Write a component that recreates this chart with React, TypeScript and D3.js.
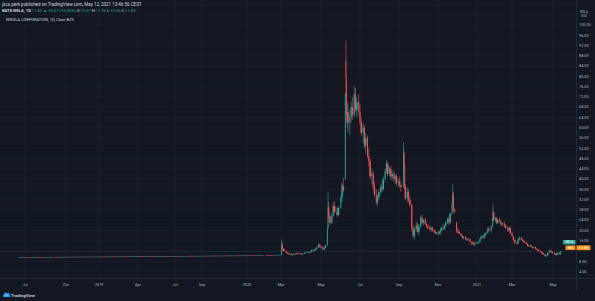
import React from "react";
import * as d3 from "d3";

type Bar = [string, number, number, number, number]; // date, open, high, low, close

// ---- axis data ----
const timeTickDates = ["2018-07-01","2018-10-01","2019-01-01","2019-04-01","2019-07-01","2019-09-01","2020-01-01","2020-03-01","2020-05-01","2020-07-01","2020-09-01","2020-11-01","2021-01-01","2021-03-01","2021-05-01"];
const timeTickLabels = ["Jul","Oct","2019","Apr","Jul","Sep","2020","Mar","May","Jul","Sep","Nov","2021","Mar","May"];
const priceTicks = [4,8,12,16,20,24,28,32,36,40,44,48,52,56,60,64,68,72,76,80,84,88,92,96,100];
const gridLevels = [4,8,12,16,20,24,28,32,36,40,44,48,52,56,60,64,68,72,76,80,84,88,92,96,100,104,108];

// ---- price data ----
const spacEra: Bar[] = [
  ["2018-06-15",9.58,9.62,9.55,9.6],["2018-07-02",9.62,9.64,9.57,9.59],["2018-07-16",9.6,9.66,9.58,9.63],
  ["2018-08-01",9.65,9.68,9.6,9.62],["2018-08-15",9.63,9.7,9.61,9.67],["2018-09-04",9.69,9.72,9.64,9.66],
  ["2018-09-17",9.67,9.74,9.65,9.71],["2018-10-01",9.73,9.76,9.68,9.7],["2018-10-15",9.71,9.77,9.69,9.74],
  ["2018-11-01",9.76,9.78,9.7,9.72],["2018-11-15",9.73,9.8,9.71,9.77],["2018-12-03",9.79,9.82,9.74,9.75],
  ["2018-12-17",9.76,9.83,9.74,9.8],["2019-01-02",9.82,9.84,9.76,9.78],["2019-01-16",9.79,9.86,9.77,9.84],
  ["2019-02-01",9.86,9.88,9.8,9.82],["2019-02-15",9.83,9.9,9.81,9.88],["2019-03-01",9.9,9.92,9.85,9.86],
  ["2019-03-15",9.87,9.95,9.85,9.92],["2019-04-01",9.94,9.96,9.88,9.9],["2019-04-15",9.91,9.98,9.89,9.95],
  ["2019-05-01",9.97,10.0,9.92,9.94],["2019-05-15",9.95,10.02,9.93,10.0],["2019-06-03",10.02,10.04,9.96,9.98],
  ["2019-06-17",9.99,10.06,9.97,10.03],["2019-07-01",10.05,10.08,10.0,10.02],["2019-07-15",10.03,10.1,10.01,10.07],
  ["2019-08-01",10.09,10.12,10.04,10.06],["2019-08-15",10.07,10.14,10.05,10.11],["2019-09-03",10.13,10.16,10.08,10.1],
  ["2019-09-16",10.11,10.18,10.09,10.15],["2019-10-01",10.17,10.2,10.12,10.14],["2019-10-15",10.15,10.22,10.13,10.19],
  ["2019-11-01",10.21,10.24,10.16,10.18],["2019-11-15",10.19,10.26,10.17,10.23],["2019-12-02",10.25,10.28,10.2,10.22],
  ["2019-12-16",10.23,10.3,10.21,10.27],["2020-01-02",10.29,10.34,10.24,10.26],["2020-01-16",10.27,10.38,10.25,10.35],
  ["2020-02-03",10.38,10.45,10.3,10.34],["2020-02-18",10.36,10.55,10.34,10.5],
];

const spring2020: Bar[] = [
  ["2020-03-02",10.6,16.4,10.5,14.2],["2020-03-03",14.5,15.5,12.5,12.8],["2020-03-05",12.8,13.2,11.8,12.0],
  ["2020-03-09",12.0,12.2,11.0,11.3],["2020-03-11",11.3,11.6,10.8,11.0],["2020-03-13",11.0,11.4,10.5,10.9],
  ["2020-03-16",10.9,11.0,10.2,10.5],["2020-03-18",10.5,10.9,10.1,10.6],["2020-03-20",10.6,11.0,10.4,10.8],
  ["2020-03-23",10.8,11.2,10.5,10.7],["2020-03-25",10.7,11.3,10.6,11.1],["2020-03-27",11.1,11.4,10.8,11.0],
  ["2020-03-30",11.0,11.3,10.7,10.9],["2020-04-01",10.9,11.2,10.6,10.8],["2020-04-03",10.8,11.1,10.5,10.9],
  ["2020-04-06",10.9,11.5,10.8,11.3],["2020-04-08",11.3,11.8,11.1,11.6],["2020-04-13",11.6,12.0,11.3,11.5],
  ["2020-04-15",11.5,11.9,11.2,11.8],["2020-04-17",11.8,12.6,11.7,12.4],["2020-04-20",12.4,12.8,11.9,12.1],
  ["2020-04-22",12.1,12.9,12.0,12.7],["2020-04-24",12.7,13.6,12.5,13.3],["2020-04-27",13.3,14.8,13.1,14.4],
  ["2020-04-29",14.4,14.9,13.4,13.6],["2020-05-01",13.6,14.2,12.9,13.5],["2020-05-04",13.5,13.9,12.3,12.6],
  ["2020-05-06",12.6,13.4,12.4,13.1],["2020-05-08",13.1,14.5,13.0,14.2],["2020-05-11",14.2,21.5,14.0,20.8],
  ["2020-05-12",20.8,35.0,20.5,29.0],["2020-05-13",29.0,31.0,24.5,25.5],["2020-05-15",25.5,27.0,22.0,23.0],
  ["2020-05-18",23.0,26.5,22.5,25.8],["2020-05-20",25.8,31.0,25.0,29.5],["2020-05-22",29.5,31.5,26.5,27.2],
  ["2020-05-26",27.2,29.0,25.2,26.0],["2020-05-28",26.0,29.5,25.5,28.8],
];

const summer2020: Bar[] = [
  ["2020-06-01",28.8,33.5,28.5,32.8],["2020-06-02",32.8,38.5,31.5,33.8],["2020-06-03",33.8,37.5,31.0,34.3],
  ["2020-06-04",34.3,38.0,33.0,37.0],["2020-06-05",37.0,40.5,35.0,35.8],["2020-06-08",40.0,73.5,39.5,73.0],
  ["2020-06-09",86.0,94.0,72.0,79.7],["2020-06-10",78.0,80.0,62.0,65.0],["2020-06-11",64.0,69.0,60.0,66.0],
  ["2020-06-12",66.0,70.0,58.0,62.0],["2020-06-15",62.0,67.0,57.0,64.0],["2020-06-17",64.0,70.0,62.0,68.0],
  ["2020-06-19",68.0,72.0,63.0,65.0],["2020-06-22",65.0,76.0,64.0,73.0],["2020-06-24",73.0,75.5,66.0,67.0],
  ["2020-06-26",67.0,72.0,64.0,70.0],["2020-06-29",70.0,73.0,65.0,66.0],["2020-07-01",66.0,69.0,61.0,62.0],
  ["2020-07-03",62.0,64.0,57.0,58.0],["2020-07-06",58.0,62.0,54.0,60.0],["2020-07-08",60.0,61.0,52.0,53.0],
  ["2020-07-10",53.0,58.0,50.0,56.0],["2020-07-13",56.0,57.0,48.0,49.0],["2020-07-15",49.0,52.0,45.0,47.0],
  ["2020-07-17",47.0,48.0,40.0,41.0],["2020-07-20",41.0,44.0,38.0,42.0],["2020-07-22",42.0,43.0,36.0,37.0],
  ["2020-07-24",37.0,39.0,33.0,34.0],["2020-07-27",34.0,36.0,30.0,31.0],["2020-07-29",31.0,34.0,29.3,33.0],
  ["2020-07-31",33.0,36.0,32.0,35.0],["2020-08-03",35.0,38.0,34.0,37.0],["2020-08-05",37.0,39.0,35.0,36.0],
  ["2020-08-07",36.0,41.0,35.5,40.0],["2020-08-10",40.0,44.0,39.0,43.0],["2020-08-12",43.0,47.5,42.0,46.0],
  ["2020-08-14",46.0,46.7,41.0,42.0],["2020-08-17",42.0,45.0,41.0,44.0],["2020-08-19",44.0,45.0,40.0,41.0],
  ["2020-08-21",41.0,43.6,39.5,42.0],["2020-08-24",42.0,43.0,39.0,40.0],["2020-08-26",40.0,42.0,38.0,41.0],
  ["2020-08-28",41.0,42.0,37.5,38.5],["2020-08-31",38.5,40.0,37.0,39.0],
];

const fall2020: Bar[] = [
  ["2020-09-02",39.0,41.0,36.5,37.5],["2020-09-04",37.5,39.0,35.0,37.0],["2020-09-08",37.0,54.5,36.5,50.0],
  ["2020-09-09",50.0,51.0,44.0,45.0],["2020-09-10",45.0,46.0,36.0,37.0],["2020-09-11",37.0,38.0,32.0,32.5],
  ["2020-09-14",32.5,36.6,31.0,35.0],["2020-09-16",35.0,36.0,30.8,32.0],["2020-09-18",32.0,33.0,29.0,30.0],
  ["2020-09-21",30.0,30.5,19.5,20.5],["2020-09-23",20.5,22.0,17.0,17.8],["2020-09-25",17.8,21.5,16.4,20.5],
  ["2020-09-28",20.5,23.4,19.5,22.0],["2020-09-30",22.0,23.0,19.0,19.5],["2020-10-02",19.5,22.5,18.0,21.5],
  ["2020-10-05",21.5,26.0,21.0,25.0],["2020-10-07",25.0,26.0,22.5,23.0],["2020-10-09",23.0,24.5,22.0,24.0],
  ["2020-10-12",24.0,25.0,22.0,22.5],["2020-10-14",22.5,23.0,21.0,21.5],["2020-10-16",21.5,22.5,20.5,21.0],
  ["2020-10-19",21.0,22.0,20.0,20.5],["2020-10-21",20.5,21.5,19.5,21.0],["2020-10-23",21.0,21.5,19.5,20.0],
  ["2020-10-26",20.0,20.5,19.0,19.3],["2020-10-28",19.3,20.0,18.5,18.8],["2020-10-30",18.8,19.5,18.4,19.2],
  ["2020-11-02",19.2,19.8,18.4,18.6],["2020-11-04",18.6,20.0,18.2,19.8],["2020-11-06",19.8,21.5,19.2,21.0],
  ["2020-11-09",21.0,22.5,20.0,20.5],["2020-11-11",20.5,22.0,20.0,21.8],["2020-11-13",21.8,23.5,21.0,23.0],
  ["2020-11-16",23.0,25.0,22.5,24.5],["2020-11-18",24.5,25.4,22.0,23.0],["2020-11-20",23.0,27.0,22.5,26.5],
  ["2020-11-23",26.5,31.0,26.0,30.0],["2020-11-24",30.0,37.8,29.0,34.0],["2020-11-25",34.0,35.0,27.0,28.0],
  ["2020-11-27",28.0,28.5,26.5,27.5],["2020-11-30",23.0,23.5,19.0,20.0],
];

const winter2021: Bar[] = [
  ["2020-12-02",20.0,21.0,18.8,19.5],["2020-12-04",19.5,20.0,18.5,18.8],["2020-12-07",18.8,19.0,17.8,18.0],
  ["2020-12-09",18.0,18.5,16.8,17.0],["2020-12-11",17.0,17.8,16.5,17.3],["2020-12-14",17.3,17.8,16.4,16.6],
  ["2020-12-16",16.6,17.2,16.0,16.3],["2020-12-18",16.3,17.0,15.8,16.5],["2020-12-21",16.5,16.8,15.3,15.6],
  ["2020-12-23",15.6,15.8,14.2,14.5],["2020-12-28",14.5,15.0,13.7,14.8],["2020-12-30",14.8,15.8,14.5,15.3],
  ["2021-01-04",15.3,16.0,14.8,15.6],["2021-01-06",15.6,17.0,15.3,16.8],["2021-01-08",16.8,18.0,16.5,17.6],
  ["2021-01-11",17.6,18.2,16.8,17.0],["2021-01-13",17.0,18.5,16.9,18.2],["2021-01-15",18.2,19.5,17.5,19.0],
  ["2021-01-19",19.0,21.0,18.6,20.5],["2021-01-21",20.5,21.5,19.5,20.0],["2021-01-25",20.0,22.0,19.0,21.5],
  ["2021-01-27",21.5,25.0,21.0,24.5],["2021-01-28",24.5,30.5,24.0,27.0],["2021-01-29",27.0,27.5,23.5,24.0],
  ["2021-02-01",24.0,25.4,23.0,24.8],["2021-02-03",24.8,25.2,22.5,23.0],["2021-02-05",23.0,24.5,22.5,24.0],
  ["2021-02-08",24.0,25.0,23.0,23.5],["2021-02-10",23.5,24.0,22.0,22.3],["2021-02-12",22.3,23.0,21.5,22.8],
  ["2021-02-16",22.8,23.5,21.5,21.8],["2021-02-18",21.8,22.5,20.5,21.0],["2021-02-22",21.0,21.5,19.5,20.0],
  ["2021-02-24",20.0,21.5,19.5,21.0],["2021-02-26",21.0,21.5,18.5,19.0],
];

const spring2021: Bar[] = [
  ["2021-03-01",19.0,19.5,17.5,17.8],["2021-03-03",17.8,18.0,16.0,16.3],["2021-03-05",16.3,16.8,14.5,15.2],
  ["2021-03-08",15.2,15.5,14.5,14.8],["2021-03-10",14.8,16.8,14.6,16.5],["2021-03-12",16.5,17.6,16.0,17.2],
  ["2021-03-15",17.2,17.5,16.2,16.4],["2021-03-17",16.4,16.9,15.6,15.8],["2021-03-19",15.8,16.2,15.0,15.3],
  ["2021-03-22",15.3,15.6,14.6,14.8],["2021-03-24",14.8,15.2,13.8,14.0],["2021-03-26",14.0,14.6,13.6,14.3],
  ["2021-03-29",14.3,14.5,13.4,13.6],["2021-03-31",13.6,14.0,13.0,13.3],["2021-04-02",13.3,13.8,12.8,13.5],
  ["2021-04-05",13.5,13.8,12.6,12.8],["2021-04-07",12.8,13.2,12.2,12.4],["2021-04-09",12.4,12.8,11.8,12.0],
  ["2021-04-12",12.0,12.3,11.4,11.6],["2021-04-14",11.6,12.0,11.0,11.2],["2021-04-16",11.2,11.5,10.4,10.6],
  ["2021-04-19",10.6,10.9,9.8,10.0],["2021-04-21",10.0,10.5,9.6,10.3],["2021-04-23",10.3,11.5,10.1,11.3],
  ["2021-04-26",11.3,12.5,11.1,12.2],["2021-04-28",12.2,12.6,11.4,11.6],["2021-04-30",11.6,12.0,11.0,11.2],
  ["2021-05-03",11.2,11.4,10.5,10.7],["2021-05-05",10.7,11.0,10.2,10.4],["2021-05-07",10.4,11.4,10.3,11.2],
  ["2021-05-10",11.2,11.5,10.6,10.8],["2021-05-11",10.8,11.4,10.5,11.26],["2021-05-12",10.67,11.96,10.55,11.83],
];

const lastPrice = 11.83;

// ---- layout ----
const W = 595, H = 301;
const PLOT_R = 576, PLOT_B = 278;
const tickX = [25,66,99,138,175,202,247,281,321,360,399,438,477,512,553];
const UP = "#26a69a", DOWN = "#ef5350";
const BG = "#131722", GRID = "#1c2130", TXT = "#b2b5be";
const FONT = "Roboto, 'Noto Sans', sans-serif";

export default function App() {
  const parse = d3.timeParse("%Y-%m-%d");
  const x = d3.scaleTime().domain(timeTickDates.map(d => parse(d) as Date)).range(tickX);
  const y = d3.scaleLinear().domain([4, 100]).range([271.5, 25]);

  const bars = [...spacEra, ...spring2020, ...summer2020, ...fall2020, ...winter2021, ...spring2021];
  const xs = bars.map(b => x(parse(b[0]) as Date));

  const candles = bars.map((b, i) => {
    const [, o, h, l, c] = b;
    const cx = xs[i];
    const gap = i < bars.length - 1 ? xs[i + 1] - cx : (i > 0 ? cx - xs[i - 1] : 1);
    const w = Math.max(0.7, Math.min(gap * (gap > 3 ? 1.02 : 0.8), 8));
    const col = c >= o ? UP : DOWN;
    const top = y(Math.max(o, c));
    const bh = Math.max(0.7, y(Math.min(o, c)) - top);
    return (
      <g key={i} opacity={gap > 3 ? 0.75 : 1}>
        <line x1={cx} x2={cx} y1={y(h)} y2={y(l)} stroke={col} strokeWidth={0.6} />
        <rect x={gap > 3 ? cx : cx - w / 2} y={top} width={w} height={bh} fill={col} />
      </g>
    );
  });

  const ly = y(lastPrice);

  return (
    <svg width={W} height={H} style={{ position: "absolute", left: 0, top: 0, display: "block" }} fontFamily={FONT}>
      <rect x={0} y={0} width={W} height={H} fill={BG} />
      {/* grid */}
      {gridLevels.map(p => (
        <line key={"h" + p} x1={0} x2={PLOT_R} y1={y(p)} y2={y(p)} stroke={GRID} strokeWidth={0.6} />
      ))}
      {timeTickDates.map((d, i) => (
        <line key={"v" + i} x1={x(parse(d) as Date)} x2={x(parse(d) as Date)} y1={0} y2={PLOT_B} stroke={GRID} strokeWidth={0.6} />
      ))}
      {/* borders */}
      <line x1={PLOT_R + 0.5} x2={PLOT_R + 0.5} y1={0} y2={291} stroke="#2a2e39" strokeWidth={0.8} />
      <line x1={0} x2={W} y1={PLOT_B + 0.5} y2={PLOT_B + 0.5} stroke="#2a2e39" strokeWidth={0.8} />

      {/* last price line */}
      <line x1={0} x2={PLOT_R} y1={ly} y2={ly} stroke={UP} strokeOpacity={0.45} strokeWidth={0.6} strokeDasharray="1,1" />

      {candles}

      {/* y axis labels */}
      {priceTicks.filter(p => p !== 12).map(p => (
        <text key={"yl" + p} x={579} y={y(p)} dy="0.35em" fontSize={3.8} fill={TXT}>{p.toFixed(2)}</text>
      ))}
      <text x={580} y={13} fontSize={3} fill={TXT}>NKLA</text>
      <text x={581} y={16.5} fontSize={3} fill={TXT}>USD</text>

      {/* x axis labels */}
      {timeTickDates.map((d, i) => (
        <text key={"xl" + i} x={x(parse(d) as Date)} y={285} dy="0.35em" fontSize={3.8} fill={TXT} textAnchor="middle">{timeTickLabels[i]}</text>
      ))}

      {/* price labels */}
      <rect x={563} y={ly - 11.5} width={12.5} height={4.6} rx={0.6} fill="#2aa79b" />
      <text x={569.2} y={ly - 9.2} dy="0.35em" fontSize={3.2} fill="#fff" textAnchor="middle">NKLA</text>
      <rect x={565.5} y={ly - 6} width={10} height={4.6} rx={0.6} fill="#f7931a" />
      <text x={570.5} y={ly - 3.7} dy="0.35em" fontSize={3.2} fill="#fff" textAnchor="middle">Bid</text>
      <rect x={576.5} y={ly - 6} width={14} height={4.8} fill="#f7931a" />
      <text x={583.5} y={ly - 3.6} dy="0.35em" fontSize={3.6} fill="#fff" textAnchor="middle">{lastPrice.toFixed(2)}</text>

      {/* header */}
      <text x={2} y={5.6} fontSize={4.5} fill="#d1d4dc">jscs.perk published on TradingView.com, May 12, 2021 13:46:56 CEST</text>
      <text x={2} y={12} fontSize={4.1} fill="#d1d4dc">
        <tspan fontWeight={700}>BATS:NKLA, 1D</tspan>
        <tspan fill={UP}> 11.83 ▲ +0.57 (+5.06%)</tspan>
        <tspan> O:</tspan><tspan fill={UP}>10.67</tspan>
        <tspan> H:</tspan><tspan fill={UP}>11.96</tspan>
        <tspan> L:</tspan><tspan fill={UP}>10.55</tspan>
        <tspan> C:</tspan><tspan fill={UP}>11.83</tspan>
      </text>
      <text x={6} y={21} fontSize={4} fill="#d1d4dc">NIKOLA CORPORATION, 1D, Cboe BZX</text>

      {/* logo */}
      <g transform="translate(2,291)">
        <path d="M1.5,6 A1.6,1.6 0 0 1 1.8,3.4 A2.2,2.2 0 0 1 5.6,2.2 A1.8,1.8 0 0 1 8,4.2 A1,1 0 0 1 7.8,6 Z" fill="#2196f3" />
        <polyline points="2.2,5.3 3.6,3.9 4.6,4.8 6.4,3.2" fill="none" stroke="#fff" strokeWidth={0.5} />
      </g>
      <text x={11} y={296.8} fontSize={4.3} fontWeight={600} fill="#d1d4dc">TradingView</text>
    </svg>
  );
}
